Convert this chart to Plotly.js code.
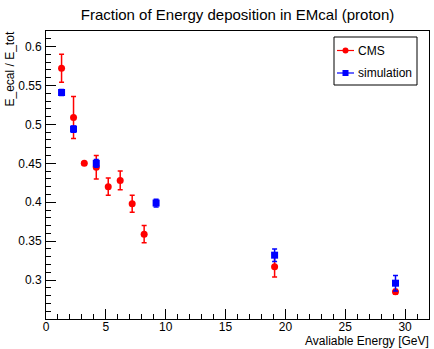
<!DOCTYPE html>
<html>
<head>
<meta charset="utf-8">
<script src="https://cdn.plot.ly/plotly-3.0.1.min.js"></script>
<style>html,body{margin:0;padding:0;background:#fff;}#chart{width:434px;height:349px;}</style>
</head>
<body>
<div id="chart"></div>
<script>
// Data
const cmsX   = [1.3, 2.3, 3.2, 4.2, 5.2, 6.2, 7.2, 8.2, 19.1, 29.2];
const cmsY   = [0.572, 0.509, 0.450, 0.445, 0.420, 0.428, 0.398, 0.359, 0.317, 0.285];
const cmsErr = [0.018, 0.027, 0.002, 0.015, 0.011, 0.012, 0.011, 0.011, 0.013, 0.003];
const simX   = [1.3, 2.3, 4.2, 9.2, 19.1, 29.2];
const simY   = [0.541, 0.494, 0.450, 0.399, 0.332, 0.296];
const simErr = [0.004, 0.004, 0.005, 0.005, 0.008, 0.010];
const seriesNames = ['CMS', 'simulation'];
const xTicks = [0, 5, 10, 15, 20, 25, 30];
const yTicks = [0.3, 0.35, 0.4, 0.45, 0.5, 0.55, 0.6];

const RED = '#ff0000', BLUE = '#0000ff';
const FONT = 'Liberation Sans, Arial, Helvetica, sans-serif';

const traces = [
  {x: cmsX, y: cmsY, type: 'scatter', mode: 'markers', name: seriesNames[0], showlegend: false,
   marker: {color: RED, size: 7, symbol: 'circle'},
   error_y: {type: 'data', array: cmsErr, visible: true, color: RED, thickness: 1.5, width: 2.5}},
  {x: simX, y: simY, type: 'scatter', mode: 'markers', name: seriesNames[1], showlegend: false,
   marker: {color: BLUE, size: 7, symbol: 'square'},
   error_y: {type: 'data', array: simErr, visible: true, color: BLUE, thickness: 1.5, width: 2.5}}
];

// Manual ROOT-style legend box (positions in pixels converted to paper coords)
const L = 46, R = 429, T = 31, B = 319;
const px = v => (v - L) / (R - L);
const py = v => (B - v) / (B - T);

const shapes = [
  {type: 'rect', xref: 'paper', yref: 'paper', x0: px(334), x1: px(417), y0: py(85), y1: py(37),
   line: {color: 'black', width: 1}, fillcolor: 'white', layer: 'above'},
  {type: 'line', xref: 'paper', yref: 'paper', x0: px(337), x1: px(354), y0: py(50.5), y1: py(50.5),
   line: {color: RED, width: 1.2}, layer: 'above'},
  {type: 'circle', xref: 'paper', yref: 'paper', x0: px(342.5), x1: px(348.5), y0: py(53.5), y1: py(47.5),
   line: {color: RED, width: 0}, fillcolor: RED, layer: 'above'},
  {type: 'line', xref: 'paper', yref: 'paper', x0: px(337), x1: px(354), y0: py(73), y1: py(73),
   line: {color: BLUE, width: 1.2}, layer: 'above'},
  {type: 'rect', xref: 'paper', yref: 'paper', x0: px(342.5), x1: px(348.5), y0: py(76), y1: py(70),
   line: {color: BLUE, width: 0}, fillcolor: BLUE, layer: 'above'}
];

const annotations = [
  {xref: 'paper', yref: 'paper', x: px(356), y: py(50.5), xanchor: 'left', yanchor: 'middle',
   text: seriesNames[0], showarrow: false, font: {family: FONT, size: 12, color: 'black'}},
  {xref: 'paper', yref: 'paper', x: px(356), y: py(73), xanchor: 'left', yanchor: 'middle',
   text: seriesNames[1], showarrow: false, font: {family: FONT, size: 12, color: 'black'}},
  {xref: 'paper', yref: 'paper', x: 1, y: 0, xanchor: 'right', yanchor: 'middle', xshift: 2, yshift: -22,
   text: 'Avaliable Energy [GeV]', showarrow: false, font: {family: FONT, size: 12, color: 'black'}},
  {xref: 'paper', yref: 'paper', x: 0, y: 1, xanchor: 'center', yanchor: 'top', xshift: -37, yshift: 1,
   textangle: -90, text: 'E_ecal / E_tot', showarrow: false, font: {family: FONT, size: 12, color: 'black'}}
];

const layout = {
  width: 434, height: 349,
  margin: {l: L, r: 434 - R, t: T, b: 349 - B, pad: 0},
  paper_bgcolor: 'white', plot_bgcolor: 'white',
  showlegend: false,
  font: {family: FONT, size: 12, color: 'black'},
  title: {text: 'Fraction of Energy deposition in EMcal (proton)', x: 0.5, xref: 'paper',
          y: (349 - 15) / 349, yref: 'container', yanchor: 'middle',
          font: {family: FONT, size: 15, color: 'black'}},
  xaxis: {range: [0, 32], tickvals: xTicks, ticktext: xTicks.map(String),
          ticks: 'inside', ticklen: 10, tickwidth: 1, tickcolor: 'black',
          minor: {dtick: 1, ticks: 'inside', ticklen: 5, tickcolor: 'black', tickwidth: 1, showgrid: false},
          showline: true, mirror: true, linecolor: 'black', linewidth: 1,
          showgrid: false, zeroline: false, tickfont: {family: FONT, size: 12, color: 'black'},
          ticklabelstandoff: -3},
  yaxis: {range: [0.25, 0.62], tickvals: yTicks, ticktext: yTicks.map(v => String(v)),
          ticks: 'inside', ticklen: 10, tickwidth: 1, tickcolor: 'black',
          minor: {dtick: 0.01, tick0: 0.25, ticks: 'inside', ticklen: 5, tickcolor: 'black', tickwidth: 1, showgrid: false},
          showline: true, mirror: true, linecolor: 'black', linewidth: 1,
          showgrid: false, zeroline: false, tickfont: {family: FONT, size: 12, color: 'black'},
          ticklabelstandoff: 1},
  shapes: shapes,
  annotations: annotations
};

Plotly.newPlot('chart', traces, layout, {staticPlot: true, displayModeBar: false});
</script>
</body>
</html>
